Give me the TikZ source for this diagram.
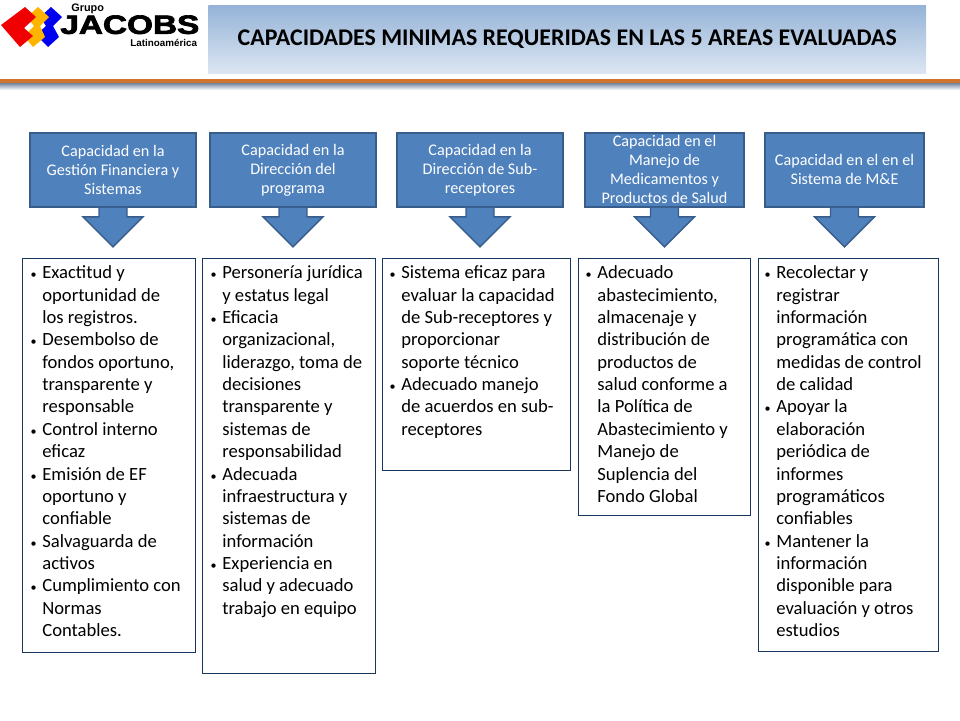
\documentclass[tikz,border=0pt]{standalone}
\usepackage{fontspec}
\setmainfont{Carlito}
\newfontfamily\logofont{Liberation Sans}
\newfontfamily\marcafont[BoldFeatures={FakeBold=2.5}]{Liberation Sans}
\definecolor{jbfill}{HTML}{4F81BD}
\definecolor{jbedge}{HTML}{385D8A}
\definecolor{jbnavy}{HTML}{17375E}
\definecolor{jbtop}{HTML}{95B3D7}
\definecolor{jbbottom}{HTML}{DCE6F2}
\definecolor{jborange}{HTML}{D0752F}
\definecolor{jbgrey}{HTML}{6F83A0}
\definecolor{jbred}{HTML}{F00000}
\definecolor{jbyellow}{HTML}{FFB400}
\definecolor{jbblue}{HTML}{0000F0}
\newcommand{\vin}{\makebox[0pt][r]{\scalebox{0.65}{\textbullet}\hspace{3.3pt}}}
\tikzset{
  encab/.style={draw=jbedge,fill=jbfill,line width=1.3pt,text=white,align=center,inner sep=0pt,
    minimum height=1.47cm,font=\fontsize{9.2}{10.77}\selectfont},
  flecha/.style={draw=jbedge,fill=jbfill,line width=0.8pt,line join=miter},
  cajon/.style={draw=jbnavy,line width=0.5pt,anchor=north west,inner sep=0pt},
  lista/.style={anchor=north west,inner sep=0pt,align=left,font=\fontsize{10.6}{12.73}\selectfont}
}

\begin{document}
\begin{tikzpicture}[x=0.02cm,y=-0.02cm]
  \useasboundingbox (0,0) rectangle (960,720);
  % logo
  \fill[jbblue] (51,7) -- (62,17) -- (53,26) -- (59,37) -- (48,47) -- (36,35) -- (46,26) -- (40,17) -- cycle;
  \fill[jbyellow] (38,7) -- (49,17) -- (40,26) -- (45,37) -- (33,47) -- (24,36) -- (34,26) -- (27,17) -- cycle;
  \fill[jbred] (25,7) -- (36,17) -- (24,28) -- (33,36) -- (20,47) -- (1,25) -- cycle;
  \node[anchor=west,inner sep=0pt,font=\logofont\bfseries\fontsize{6.2}{7}\selectfont] (grupo) at (71,9) {Grupo};
  \node[anchor=north west,inner sep=0pt] (jacobs) at (60,15)
    {\resizebox{2.78cm}{0.37cm}{\marcafont\bfseries JACOBS}};
  \node[anchor=west,inner sep=0pt,font=\logofont\bfseries\fontsize{5.6}{6}\selectfont] (latino) at (130,42.5) {Latinoamérica};
  % banda del titulo
  \node[anchor=north west,inner sep=0pt,minimum width=14.36cm,minimum height=1.36cm,
    top color=jbtop,bottom color=jbbottom,font=\bfseries\fontsize{13.6}{16}\selectfont] (titulo) at (208,5)
    {CAPACIDADES MINIMAS REQUERIDAS EN LAS 5 AREAS EVALUADAS};
  \fill[top color=jbgrey,bottom color=white] (0,83) rectangle (960,90);
  \fill[jborange] (0,79) rectangle (960,82.5);
  % encabezados
  \node[encab,minimum width=3.31cm] (h1) at (113,170) {\rule{0pt}{7pt}Capacidad en la\\Gestión Financiera y\\Sistemas\rule[-1pt]{0pt}{1pt}};
  \node[encab,minimum width=3.31cm] (h2) at (293,170) {\rule{0pt}{7pt}Capacidad en la\\Dirección del\\programa\rule[-1pt]{0pt}{1pt}};
  \node[encab,minimum width=3.31cm] (h3) at (480,170) {\rule{0pt}{7pt}Capacidad en la\\Dirección de Sub-\\receptores\rule[-1pt]{0pt}{1pt}};
  \node[encab,minimum width=3.17cm] (h4) at (664.5,170) {\rule{0pt}{7pt}Capacidad en el\\Manejo de\\Medicamentos y\\Productos de Salud\rule[-1pt]{0pt}{1pt}};
  \node[encab,minimum width=3.17cm] (h5) at (844.5,170) {\rule{0pt}{7pt}Capacidad en el en el\\Sistema de M\&E\rule[-1pt]{0pt}{1pt}};
  % flechas
  \foreach \n in {1,...,5}
    \draw[flecha] ([xshift=-0.28cm]h\n.south) -- ++(0,9) -- ++(-16,0) -- ++(30,30) -- ++(30,-30)
      -- ++(-16,0) -- ++(0,-9);
  % cajones
  \node[cajon,minimum width=3.47cm,minimum height=7.9cm] (b1) at (22,257.5) {};
  \node[cajon,minimum width=3.47cm,minimum height=8.32cm] (b2) at (202,257.5) {};
  \node[cajon,minimum width=3.77cm,minimum height=4.26cm] (b3) at (382,257.5) {};
  \node[cajon,minimum width=3.45cm,minimum height=5.16cm] (b4) at (578,257.5) {};
  \node[cajon,minimum width=3.61cm,minimum height=7.88cm] (b5) at (758,257.5) {};
  \node[lista] (t1) at (42,265.5) {\vin Exactitud y\\oportunidad de\\los registros.\\\vin Desembolso de\\fondos oportuno,\\transparente y\\responsable\\\vin Control interno\\eficaz\\\vin Emisión de EF\\oportuno y\\confiable\\\vin Salvaguarda de\\activos\\\vin Cumplimiento con\\Normas\\Contables.};
  \node[lista] (t2) at (222,265.5) {\vin Personería jurídica\\y estatus legal\\\vin Eficacia\\organizacional,\\liderazgo, toma de\\decisiones\\transparente y\\sistemas de\\responsabilidad\\\vin Adecuada\\infraestructura y\\sistemas de\\información\\\vin Experiencia en\\salud y adecuado\\trabajo en equipo};
  \node[lista] (t3) at (401,265.5) {\vin Sistema eficaz para\\evaluar la capacidad\\de Sub-receptores y\\proporcionar\\soporte técnico\\\vin Adecuado manejo\\de acuerdos en sub-\\receptores};
  \node[lista] (t4) at (597,265.5) {\vin Adecuado\\abastecimiento,\\almacenaje y\\distribución de\\productos de\\salud conforme a\\la Política de\\Abastecimiento y\\Manejo de\\Suplencia del\\Fondo Global};
  \node[lista] (t5) at (776,265.5) {\vin Recolectar y\\registrar\\información\\programática con\\medidas de control\\de calidad\\\vin Apoyar la\\elaboración\\periódica de\\informes\\programáticos\\confiables\\\vin Mantener la\\información\\disponible para\\evaluación y otros\\estudios};
\end{tikzpicture}
\end{document}
